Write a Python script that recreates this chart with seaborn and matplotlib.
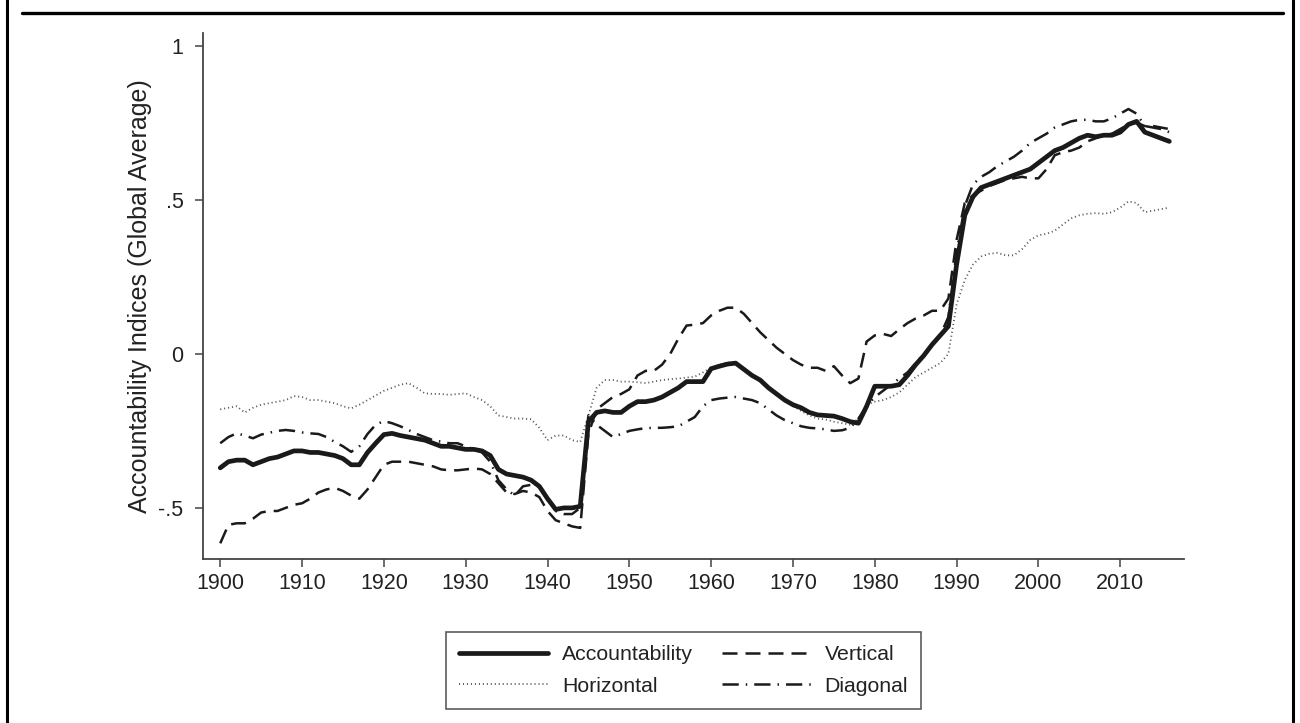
import matplotlib
matplotlib.use("Agg")
import matplotlib.pyplot as plt
from matplotlib.lines import Line2D
import numpy as np
import pandas as pd
import seaborn as sns

# global averages of the accountability indices
years = list(range(1900, 2017))

accountability = [
    -0.37, -0.35, -0.345, -0.345, -0.36, -0.35, -0.34, -0.335, -0.325, -0.315,
    -0.315, -0.32, -0.32, -0.325, -0.33, -0.34, -0.36, -0.36, -0.32, -0.29,
    -0.262, -0.258, -0.265, -0.27, -0.275, -0.28, -0.29, -0.30, -0.30, -0.305,
    -0.31, -0.31, -0.315, -0.33, -0.375, -0.39, -0.395, -0.40, -0.41, -0.43,
    -0.47, -0.505, -0.50, -0.50, -0.495, -0.22, -0.19, -0.185, -0.19, -0.19,
    -0.17, -0.155, -0.155, -0.15, -0.14, -0.125, -0.11, -0.09, -0.09, -0.09,
    -0.048, -0.04, -0.033, -0.03, -0.05, -0.07, -0.085, -0.11, -0.13, -0.15,
    -0.165, -0.175, -0.19, -0.198, -0.20, -0.202, -0.21, -0.22, -0.225, -0.17,
    -0.105, -0.105, -0.105, -0.10, -0.07, -0.035, -0.005, 0.03, 0.06, 0.09,
    0.29, 0.45, 0.51, 0.54, 0.55, 0.56, 0.57, 0.58, 0.59, 0.60,
    0.62, 0.64, 0.66, 0.67, 0.685, 0.70, 0.71, 0.705, 0.71, 0.71,
    0.72, 0.745, 0.755, 0.72, 0.71, 0.70, 0.69,
]

vertical = [
    -0.615, -0.555, -0.55, -0.55, -0.535, -0.515, -0.51, -0.51, -0.50, -0.49,
    -0.485, -0.47, -0.45, -0.44, -0.435, -0.445, -0.46, -0.47, -0.44, -0.40,
    -0.36, -0.35, -0.35, -0.35, -0.355, -0.36, -0.365, -0.375, -0.378, -0.378,
    -0.375, -0.372, -0.375, -0.39, -0.42, -0.45, -0.455, -0.445, -0.45, -0.465,
    -0.51, -0.54, -0.55, -0.56, -0.565, -0.26, -0.18, -0.16, -0.14, -0.13,
    -0.115, -0.07, -0.055, -0.055, -0.035, 0.0, 0.05, 0.092, 0.095, 0.10,
    0.125, 0.14, 0.15, 0.15, 0.13, 0.10, 0.07, 0.045, 0.02, 0.0,
    -0.02, -0.035, -0.045, -0.045, -0.055, -0.04, -0.07, -0.095, -0.08, 0.04,
    0.06, 0.065, 0.058, 0.08, 0.10, 0.115, 0.125, 0.14, 0.14, 0.18,
    0.37, 0.49, 0.515, 0.53, 0.545, 0.555, 0.565, 0.57, 0.575, 0.57,
    0.57, 0.60, 0.645, 0.655, 0.66, 0.67, 0.69, 0.70, 0.71, 0.715,
    0.73, 0.745, 0.75, 0.74, 0.74, 0.735, 0.73,
]

horizontal = [
    -0.18, -0.175, -0.17, -0.19, -0.175, -0.165, -0.16, -0.155, -0.15, -0.137,
    -0.14, -0.15, -0.15, -0.155, -0.16, -0.17, -0.177, -0.165, -0.15, -0.135,
    -0.12, -0.11, -0.10, -0.095, -0.11, -0.128, -0.13, -0.13, -0.133, -0.13,
    -0.128, -0.14, -0.15, -0.17, -0.20, -0.205, -0.21, -0.21, -0.212, -0.24,
    -0.28, -0.265, -0.265, -0.28, -0.286, -0.20, -0.11, -0.085, -0.085, -0.09,
    -0.09, -0.092, -0.095, -0.09, -0.085, -0.082, -0.08, -0.077, -0.074, -0.06,
    -0.045, -0.035, -0.028, -0.03, -0.05, -0.07, -0.09, -0.11, -0.13, -0.15,
    -0.17, -0.185, -0.20, -0.21, -0.213, -0.22, -0.225, -0.23, -0.21, -0.165,
    -0.155, -0.15, -0.14, -0.125, -0.10, -0.075, -0.06, -0.045, -0.03, 0.0,
    0.16, 0.24, 0.29, 0.316, 0.325, 0.328, 0.32, 0.32, 0.34, 0.37,
    0.385, 0.39, 0.40, 0.42, 0.44, 0.45, 0.455, 0.457, 0.455, 0.46,
    0.475, 0.495, 0.49, 0.46, 0.465, 0.47, 0.475,
]

diagonal = [
    -0.29, -0.27, -0.258, -0.265, -0.274, -0.262, -0.256, -0.25, -0.247, -0.25,
    -0.255, -0.258, -0.26, -0.27, -0.286, -0.30, -0.318, -0.30, -0.26, -0.23,
    -0.218, -0.225, -0.235, -0.247, -0.26, -0.27, -0.28, -0.285, -0.29, -0.29,
    -0.30, -0.31, -0.32, -0.35, -0.41, -0.44, -0.46, -0.43, -0.425, -0.43,
    -0.47, -0.51, -0.52, -0.52, -0.50, -0.20, -0.23, -0.25, -0.27, -0.26,
    -0.25, -0.245, -0.241, -0.24, -0.24, -0.238, -0.235, -0.22, -0.205, -0.17,
    -0.15, -0.145, -0.142, -0.14, -0.145, -0.15, -0.16, -0.18, -0.20, -0.215,
    -0.225, -0.235, -0.24, -0.242, -0.245, -0.25, -0.248, -0.24, -0.21, -0.17,
    -0.14, -0.12, -0.10, -0.08, -0.06, -0.03, 0.0, 0.03, 0.06, 0.12,
    0.33, 0.48, 0.55, 0.575, 0.59, 0.61, 0.625, 0.64, 0.66, 0.685,
    0.70, 0.715, 0.735, 0.745, 0.755, 0.76, 0.76, 0.755, 0.755, 0.765,
    0.78, 0.795, 0.78, 0.74, 0.735, 0.73, 0.72,
]

x_ticks = list(range(1900, 2011, 10))
y_ticks = [-0.5, 0, 0.5, 1]
y_tick_labels = ["-.5", "0", ".5", "1"]

sns.set_theme(style="white")
plt.rcParams["font.family"] = ["Liberation Sans", "DejaVu Sans"]

fig = plt.figure(figsize=(13, 7.23), dpi=100)
ax = fig.add_axes([0.1562, 0.2268, 0.9108 - 0.1562, 0.9544 - 0.2268])

ink = "#1a1a1a"
sns.lineplot(x=years, y=horizontal, ax=ax, color="#555555", lw=1.3,
             linestyle=(0, (0.6, 1.6)), label="Horizontal")
sns.lineplot(x=years, y=diagonal, ax=ax, color=ink, lw=1.8,
             linestyle=(0, (6.5, 2.8, 0.6, 2.8)), label="Diagonal")
sns.lineplot(x=years, y=vertical, ax=ax, color=ink, lw=1.8,
             linestyle=(0, (6.0, 3.2)), label="Vertical")
sns.lineplot(x=years, y=accountability, ax=ax, color=ink, lw=3.4,
             label="Accountability")

ax.set_xlim(1897.9, 2017.8)
ax.set_ylim(-0.666, 1.042)
ax.set_xticks(x_ticks)
ax.set_yticks(y_ticks)
ax.set_yticklabels(y_tick_labels)
ax.set_xlabel("")
ax.set_ylabel("Accountability Indices (Global Average)", fontsize=18,
              color="#222222", labelpad=5)

for side in ["top", "right"]:
    ax.spines[side].set_visible(False)
for side in ["left", "bottom"]:
    ax.spines[side].set_color("#444444")
    ax.spines[side].set_linewidth(1.3)
ax.tick_params(axis="both", direction="out", length=6, width=1.1,
               color="#444444", labelsize=15.5, labelcolor="#222222", pad=4,
               left=True, bottom=True)
ax.tick_params(axis="y", pad=8)

# legend in the order of the original
handles, labels = ax.get_legend_handles_labels()
order = ["Accountability", "Horizontal", "Vertical", "Diagonal"]
hmap = dict(zip(labels, handles))
ax.get_legend().remove()
leg = fig.legend([hmap[k] for k in order], order, ncol=2,
                 loc="center", bbox_to_anchor=(0.5258, 0.0726),
                 frameon=True, fancybox=False, fontsize=15.3,
                 handlelength=4.2, handletextpad=0.65, columnspacing=1.35,
                 borderpad=0.6, labelspacing=0.6, borderaxespad=0.3)
leg.get_frame().set_edgecolor("#333333")
leg.get_frame().set_linewidth(1.2)
for t in leg.get_texts():
    t.set_color("#222222")

# outer frame of the page
fig.add_artist(Line2D([0.0054, 0.0054], [0, 1], color="black", lw=2.2,
                      transform=fig.transFigure))
fig.add_artist(Line2D([0.9946, 0.9946], [0, 1], color="black", lw=2.2,
                      transform=fig.transFigure))
fig.add_artist(Line2D([0.017, 0.987], [0.982, 0.982], color="black", lw=2.4,
                      transform=fig.transFigure))

fig.savefig("out.png", dpi=100)
